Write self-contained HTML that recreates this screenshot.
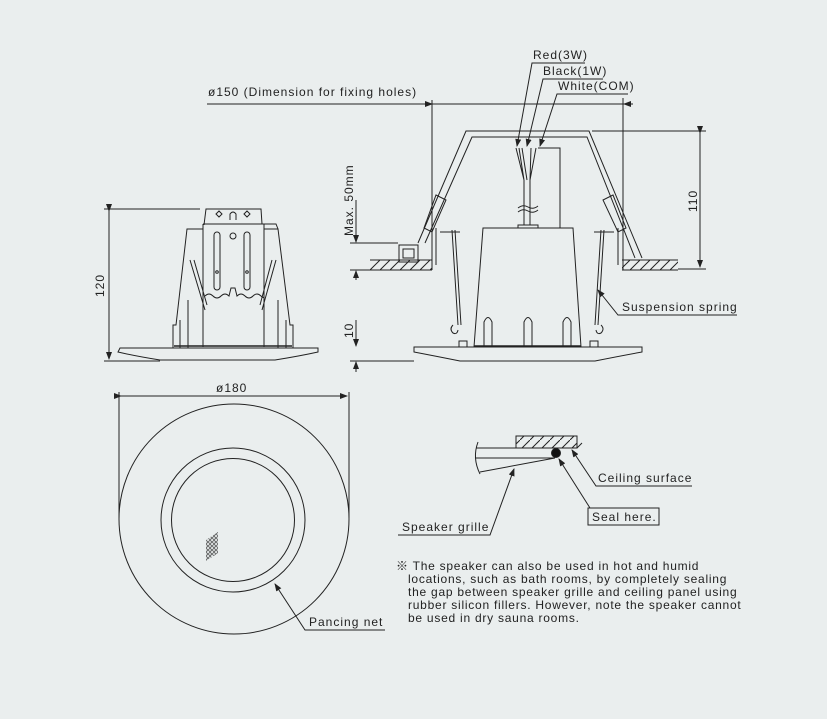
<!DOCTYPE html>
<html><head><meta charset="utf-8"><style>
html,body{margin:0;padding:0;background:#eaeeee;}
svg{display:block}
text{font-family:"Liberation Sans","Noto Sans CJK JP",sans-serif;font-size:12px;fill:#222;letter-spacing:1px}
.n{letter-spacing:0.75px}
</style></head><body>
<svg width="827" height="719" viewBox="0 0 827 719" xmlns="http://www.w3.org/2000/svg">
<defs>
<marker id="a" markerWidth="8" markerHeight="6" refX="7" refY="3" orient="auto" markerUnits="userSpaceOnUse"><path d="M0,0 L8,3 L0,6z" fill="#222"/></marker>
<pattern id="h" width="10" height="10" patternUnits="userSpaceOnUse"><path d="M0,10 L10,0" stroke="#222" stroke-width="1"/></pattern>
<pattern id="dots" width="4" height="4" patternUnits="userSpaceOnUse"><circle cx="2" cy="2" r="1.4" fill="none" stroke="#333" stroke-width="0.7"/></pattern>
</defs>
<rect width="827" height="719" fill="#eaeeee"/>
<g fill="none" stroke="#222" stroke-width="1">
<!-- LEFT SIDE VIEW -->
<line x1="104" y1="209" x2="200" y2="209"/>
<line x1="104" y1="361" x2="160" y2="361"/>
<line x1="109" y1="211" x2="109" y2="359" marker-start="url(#a)" marker-end="url(#a)"/>
<path d="M204,225 L206,209 L261,209 L262,224"/>
<path d="M203,224 L264,224 M203,224 L203,347 M264,224 L264,347"/>
<path d="M203,229 L187,229 L176,325 L173,325 L173,348 M264,229 L278,229 L290,325 L293,325 L293,348"/>
<path d="M264,224 L276,224 L278,229"/>
<rect x="214" y="232" width="6" height="58" rx="3"/>
<rect x="244" y="232" width="6" height="58" rx="3"/>
<circle cx="233" cy="236" r="3"/>
<circle cx="217" cy="272" r="1.3"/><circle cx="247" cy="272" r="1.3"/>
<path d="M230,220 L230,214 Q233,210 236,214 L236,220"/>
<path d="M205,296 q4,-4 8,0 q4,4 8,0 q4,-4 8,0 l2,-8 l4,0 l2,8 q4,-4 8,0 q4,4 8,0 q4,-4 8,0 q3,3 3,0"/>
<path d="M190,260 L205,310 M194,260 L207,305 M276,260 L262,310 M272,260 L260,305"/>
<path d="M188,300 L188,348 M278,300 L278,348 M180,320 L180,348 M286,320 L286,348"/>
<path d="M120,348 L318,348 L318,352 Q300,356 275,360 L160,360 Q135,356 118,352 Z"/>
<line x1="174" y1="346" x2="292" y2="346" stroke-width="1.6"/>
<path d="M216,214 l3,-3 l3,3 l-3,3z M244,214 l3,-3 l3,3 l-3,3z"/>
<!-- RIGHT SIDE VIEW -->
<line x1="207" y1="104" x2="633" y2="104"/>
<path d="M432,100 L432,270 M623,98 L623,270"/>
<path d="M424,104 L432,104" marker-end="url(#a)"/>
<path d="M632,104 L624,104" marker-end="url(#a)"/>
<path d="M418,243 L466,131 L589,131 L642,258"/>
<path d="M425,243 L472,137 L587,137 L635,258"/>
<path d="M436,195 L446,200 L432,232 L424,228Z M613,195 L603,200 L618,232 L626,228Z"/>
<rect x="370" y="260" width="62" height="10" fill="url(#h)" stroke="none"/>
<path d="M370,260 L432,260 M370,270 L432,270"/>
<rect x="622" y="260" width="56" height="10" fill="url(#h)" stroke="none"/>
<path d="M622,260 L678,260 M622,270 L678,270"/>
<rect x="399" y="245" width="19" height="17"/>
<path d="M403,249 L414,249 L414,258 L403,258Z"/>
<path d="M436,228 L436,265 M618,228 L618,265"/>
<path d="M483,228 L573,228 L581,347 L474,347 Z"/>
<rect x="518" y="225" width="20" height="3"/>
<path d="M484,347 L484,322 Q488,313 492,322 L492,347 M524,347 L524,322 Q528,313 532,322 L532,347 M563,347 L563,322 Q567,313 571,322 L571,347"/>
<path d="M524,180 L524,225 M530,180 L530,225"/>
<path d="M518,208 q5,-4 10,-1 q5,3 10,-1 M518,212 q5,-4 10,-1 q5,3 10,-1"/>
<path d="M524,180 L516,148 M527,180 L522,148 M530,180 L531,148 M524,180 L519,148 M530,180 L536,148"/>
<path d="M538,148 L560,148 L560,228"/>
<path d="M414,347 L642,347 L642,352 Q620,356 595,361 L460,361 Q435,356 414,352 Z"/>
<line x1="474" y1="346" x2="581" y2="346" stroke-width="1.6"/>
<path d="M440,232 L460,232 M594,232 L614,232"/>
<path d="M452,230 L458,325 M455,230 L461,325 M604,230 L598,325 M601,230 L595,325"/>
<path d="M453,325 q-4,4 0,8 q4,2 5,-3 M601,325 q4,4 0,8 q-4,2 -5,-3"/>
<rect x="459" y="341" width="8" height="6"/><rect x="590" y="341" width="8" height="6"/>
<line x1="592" y1="131" x2="706" y2="131"/>
<line x1="678" y1="269" x2="706" y2="269"/>
<line x1="700" y1="133" x2="700" y2="267" marker-start="url(#a)" marker-end="url(#a)"/>
<line x1="350" y1="243" x2="398" y2="243"/>
<line x1="350" y1="270" x2="370" y2="270"/>
<line x1="356" y1="200" x2="356" y2="242" marker-end="url(#a)"/>
<line x1="356" y1="280" x2="356" y2="271" marker-end="url(#a)"/>
<line x1="350" y1="361" x2="414" y2="361"/>
<line x1="356" y1="320" x2="356" y2="346" marker-end="url(#a)"/>
<line x1="356" y1="372" x2="356" y2="362" marker-end="url(#a)"/>
<path d="M585,63 L532,63 L517,146" marker-end="url(#a)"/>
<path d="M603,79 L543,79 L527,146" marker-end="url(#a)"/>
<path d="M628,94 L557,94 L540,146" marker-end="url(#a)"/>
<path d="M737,315 L618,315 L598,290" marker-end="url(#a)"/>
<!-- TOP VIEW -->
<circle cx="234" cy="519" r="115"/>
<circle cx="233" cy="520" r="72"/>
<circle cx="233" cy="520" r="61.5"/>
<path d="M206,540 L218,532 L218,553 L206,561Z" fill="url(#dots)" stroke="none"/>
<path d="M119,518 L119,392 M349,518 L349,392"/>
<line x1="121" y1="396" x2="347" y2="396" marker-start="url(#a)" marker-end="url(#a)"/>
<path d="M385,630 L305,630 L275,584" marker-end="url(#a)"/>
<!-- DETAIL -->
<rect x="516" y="436" width="61" height="12" fill="url(#h)"/>
<path d="M476,448 L577,448 M476,458 L555,458 M480,472 L555,458"/>
<path d="M478,442 Q472,458 480,474"/>
<path d="M577,448 L582,443"/>
<circle cx="556" cy="453" r="4.5" fill="#111"/>
<path d="M692,486 L596,486 L572,450" marker-end="url(#a)"/>
<path d="M590,508 L559,459" marker-end="url(#a)"/>
<rect x="588" y="508" width="71" height="17"/>
<path d="M398,535 L490,535 L514,469" marker-end="url(#a)"/>
</g>
<g>
<text x="208" y="96">ø150 (Dimension for fixing holes)</text>
<text x="533" y="59">Red(3W)</text>
<text x="543" y="75">Black(1W)</text>
<text x="558" y="90">White(COM)</text>
<text transform="translate(104,297) rotate(-90)">120</text>
<text transform="translate(697,212) rotate(-90)">110</text>
<text transform="translate(353,236) rotate(-90)">Max. 50mm</text>
<text transform="translate(353,338) rotate(-90)">10</text>
<text x="622" y="311">Suspension spring</text>
<text x="216" y="392">ø180</text>
<text x="309" y="626">Pancing net</text>
<text x="598" y="482">Ceiling surface</text>
<text x="592" y="521">Seal here.</text>
<text x="402" y="531">Speaker grille</text>
<text class="n" x="396" y="570">※ The speaker can also be used in hot and humid</text>
<text class="n" x="408" y="583">locations, such as bath rooms, by completely sealing</text>
<text class="n" x="408" y="596">the gap between speaker grille and ceiling panel using</text>
<text class="n" x="408" y="609">rubber silicon fillers. However, note the speaker cannot</text>
<text class="n" x="408" y="622">be used in dry sauna rooms.</text>
</g>
</svg>
</body></html>
